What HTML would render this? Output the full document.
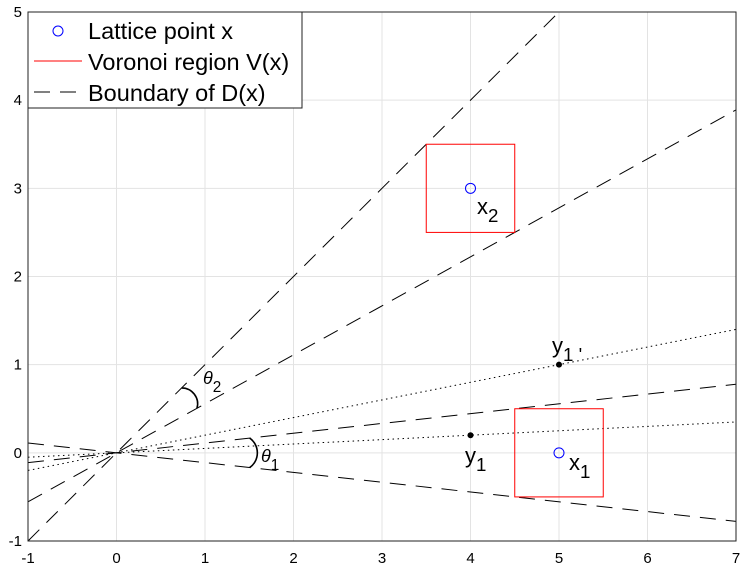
<!DOCTYPE html>
<html><head><meta charset="utf-8"><style>
body{margin:0;background:#fff;}
svg text{font-family:"Liberation Sans",sans-serif;}
</style></head><body>
<svg id="chart" width="747" height="576" xmlns="http://www.w3.org/2000/svg">
<g id="grid"></g>
<g id="lines"></g>
<g id="marks"></g>
<rect x="28" y="12" width="708" height="529" fill="none" stroke="#222" stroke-width="1"/>
<g id="ticks"></g>
<g>
<rect x="28" y="12" width="274" height="96" fill="#fff" stroke="#222"/>
<circle cx="58" cy="31" r="5" fill="none" stroke="#00f"/>
<text x="88" y="39" font-size="23.5">Lattice point x</text>
<line x1="34" y1="61" x2="82" y2="61" stroke="#f00"/>
<text x="88" y="70" font-size="23.5">Voronoi region V(x)</text>
<line x1="34" y1="92" x2="82" y2="92" stroke="#000" stroke-dasharray="16,10"/>
<text x="88" y="101" font-size="23.5">Boundary of D(x)</text>
</g>
</svg>
<script>
const xTicks=[-1,0,1,2,3,4,5,6,7];
const yTicks=[-1,0,1,2,3,4,5];
const dashedSlopes=[1,0.5556,0.1111,-0.1111];
const dottedSlopes=[0.2,0.05];
const lattice=[[4,3],[5,0]];
const points=[[4,0.2],[5,1]];
const boxes=[[3.5,2.5],[4.5,-0.5]];
const X=v=>28+(v+1)*88.5, Y=v=>541-(v+1)*88.17;
const NS="http://www.w3.org/2000/svg";
function mk(p,t,a){const e=document.createElementNS(NS,t);for(const k in a)e.setAttribute(k,a[k]);p.appendChild(e);return e;}
const grid=document.getElementById('grid'),ticks=document.getElementById('ticks'),lines=document.getElementById('lines'),marks=document.getElementById('marks');
xTicks.forEach(t=>{const l=mk(grid,'line',{x1:X(t),x2:X(t),y1:12,y2:541,stroke:'#e3e3e3'});


const tx=mk(ticks,'text',{x:X(t),y:563,'font-size':15,'text-anchor':'middle'});tx.textContent=t;

});
yTicks.forEach(t=>{const l=mk(grid,'line',{x1:28,x2:736,y1:Y(t),y2:Y(t),stroke:'#e3e3e3'});


const tx=mk(ticks,'text',{x:22,y:Y(t)+5,'font-size':15,'text-anchor':'end'});tx.textContent=t;

});
function clipLine(s){let x0=-1,x1=7;if(s*x1>5)x1=5/s;if(s*x0<-1)x0=-1/s;return [x0,x1];}
dashedSlopes.forEach(s=>{const [a,b]=clipLine(s);const l=mk(lines,'line',{x1:X(a),y1:Y(s*a),x2:X(b),y2:Y(s*b),stroke:'#000','stroke-dasharray':'16,10'});

});
dottedSlopes.forEach(s=>{const l=mk(lines,'line',{x1:X(-1),y1:Y(-s),x2:X(7),y2:Y(7*s),stroke:'#000','stroke-dasharray':'1.5,3.5'});

});
function arc(s1,s2,r,ar,name){const a1=Math.atan(s1*88.17/88.5),a2=Math.atan(s2*88.17/88.5);const cx=X(0),cy=Y(0);
const p=mk(lines,'path',{d:`M${cx+r*Math.cos(a1)},${cy-r*Math.sin(a1)} A${ar},${ar} 0 0 1 ${cx+r*Math.cos(a2)},${cy-r*Math.sin(a2)}`,fill:'none',stroke:'#000','stroke-width':1.6});

}
arc(dashedSlopes[0],dashedSlopes[1],92,16,'theta2-arc');
arc(dashedSlopes[2],dashedSlopes[3],134,18,'theta1-arc');
boxes.forEach(b=>{const r=mk(marks,'rect',{x:X(b[0]),y:Y(b[1]+1),width:X(b[0]+1)-X(b[0]),height:Y(b[1])-Y(b[1]+1),fill:'none',stroke:'#f00'});

});
lattice.forEach(p=>{const c=mk(marks,'circle',{cx:X(p[0]),cy:Y(p[1]),r:5,fill:'none',stroke:'#00f'});

});
points.forEach(p=>{const c=mk(marks,'circle',{cx:X(p[0]),cy:Y(p[1]),r:3,fill:'#000'});

});
const labels=[['θ','2',203,384,'theta2-label',18],['θ','1',261,462,'theta1-label',18],['x','2',477,214,'x2-label',22],['x','1',569,470,'x1-label',22],['y','1',465,463,'y1-label',22],["y","1 '",552,353,'y1prime-label',22]];
labels.forEach(L=>{const t=mk(marks,'text',{x:L[2],y:L[3],'font-size':L[5]});


if(L[0]==='θ'){t.setAttribute('font-style','italic');t.setAttribute('font-family','Liberation Serif, serif');}
t.textContent=L[0];const s=mk(t,'tspan',{dy:8,'font-size':L[5]*0.85,'font-style':'normal','font-family':'Liberation Sans, sans-serif'});s.textContent=L[1];});
</script>
</body></html>
